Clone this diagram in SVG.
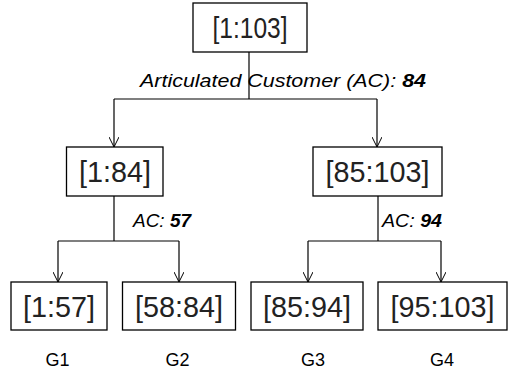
<svg xmlns="http://www.w3.org/2000/svg" width="510" height="376" viewBox="0 0 510 376">
<defs>
<marker id="arr" viewBox="0 0 10 10" refX="10" refY="5" markerWidth="10" markerHeight="10" markerUnits="userSpaceOnUse" orient="auto">
<path d="M0,0 L10,5 L0,10" fill="none" stroke="#000" stroke-width="1"/>
</marker>
<style>
.box{fill:#fff;stroke:#000;stroke-width:1.3}
.bt{font-family:"Liberation Sans",Arial,sans-serif;font-size:29px;fill:#222;text-anchor:middle}
.lbl{font-family:"Liberation Sans",Arial,sans-serif;font-size:18.5px;font-style:italic;fill:#000}
.g{font-family:"Liberation Sans",Arial,sans-serif;font-size:18px;fill:#000;text-anchor:middle}
.c{fill:none;stroke:#000;stroke-width:1.2}
</style>
</defs>
<rect width="510" height="376" fill="#fff"/>
<g id="connectors">
<path class="c" d="M249,52 V99"/>
<path class="c" d="M114,99 H377"/>
<path class="c" d="M114,99 V147" marker-end="url(#arr)"/>
<path class="c" d="M377,99 V147" marker-end="url(#arr)"/>
<path class="c" d="M114,196 V241"/>
<path class="c" d="M58,241 H179"/>
<path class="c" d="M58,241 V282" marker-end="url(#arr)"/>
<path class="c" d="M179,241 V282" marker-end="url(#arr)"/>
<path class="c" d="M378,196 V241"/>
<path class="c" d="M308,241 H441"/>
<path class="c" d="M308,241 V282" marker-end="url(#arr)"/>
<path class="c" d="M441,241 V282" marker-end="url(#arr)"/>
</g>
<g id="labels">
<text class="lbl" x="140" y="87" textLength="286" lengthAdjust="spacingAndGlyphs">Articulated Customer (AC): <tspan font-weight="bold">84</tspan></text>
<text class="lbl" x="133" y="227" textLength="58" lengthAdjust="spacingAndGlyphs">AC: <tspan font-weight="bold">57</tspan></text>
<text class="lbl" x="382" y="227" textLength="60" lengthAdjust="spacingAndGlyphs">AC: <tspan font-weight="bold">94</tspan></text>
</g>
<g id="n-root"><rect class="box" x="193" y="3" width="114" height="49"/><text class="bt" x="250" y="38" textLength="75" lengthAdjust="spacingAndGlyphs">[1:103]</text></g>
<g id="n-1-84"><rect class="box" x="66.5" y="147" width="96.5" height="49"/><text class="bt" x="115" y="182" textLength="72" lengthAdjust="spacingAndGlyphs">[1:84]</text></g>
<g id="n-85-103"><rect class="box" x="313" y="147" width="129" height="49"/><text class="bt" x="377.5" y="182" textLength="104" lengthAdjust="spacingAndGlyphs">[85:103]</text></g>
<g id="n-1-57"><rect class="box" x="11" y="282" width="96" height="48"/><text class="bt" x="59" y="317" textLength="72" lengthAdjust="spacingAndGlyphs">[1:57]</text></g>
<g id="n-58-84"><rect class="box" x="122.5" y="282" width="113" height="48"/><text class="bt" x="179" y="317" textLength="88" lengthAdjust="spacingAndGlyphs">[58:84]</text></g>
<g id="n-85-94"><rect class="box" x="251" y="282" width="112" height="48"/><text class="bt" x="307" y="317" textLength="88" lengthAdjust="spacingAndGlyphs">[85:94]</text></g>
<g id="n-95-103"><rect class="box" x="378" y="282" width="129" height="48"/><text class="bt" x="442.5" y="317" textLength="104" lengthAdjust="spacingAndGlyphs">[95:103]</text></g>
<g id="groups">
<text class="g" x="57.5" y="366">G1</text>
<text class="g" x="177.5" y="366">G2</text>
<text class="g" x="313" y="366">G3</text>
<text class="g" x="442" y="366">G4</text>
</g>
</svg>
